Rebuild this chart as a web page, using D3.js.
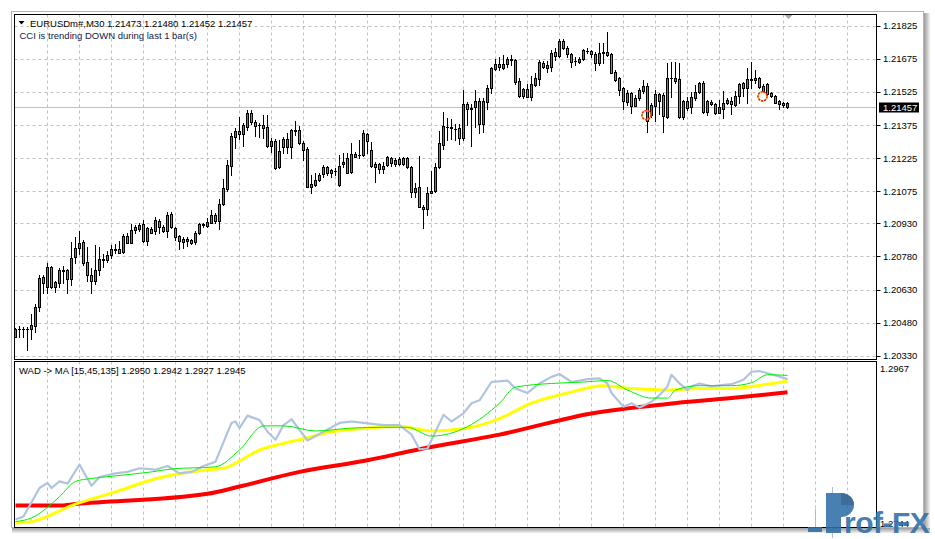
<!DOCTYPE html>
<html><head><meta charset="utf-8">
<script src="https://cdn.jsdelivr.net/npm/d3@7"></script>
<style>
body{margin:0;background:#fff}
svg{display:block}
text{font-family:"Liberation Sans",Arial,sans-serif}
</style>
</head><body>
<svg id="chart" width="935" height="539"></svg>
<script>
// ---------------- data ----------------
const symbolTitle = "EURUSDm#,M30";
const lastBar = [1.21473, 1.21480, 1.21452, 1.21457];
const signalText = "CCI is trending DOWN during last 1 bar(s)";
const priceTicks = [1.21825,1.21675,1.21525,1.21375,1.21225,1.21075,1.20930,1.20780,1.20630,1.20480,1.20330];
const wadTitle = "WAD -> MA [15,45,135]";
const wadLegendValues = [1.2950, 1.2942, 1.2927, 1.2945];
const wadTicks = [1.2967, 1.2744];

const open = [1.20416,1.20449,1.20452,1.20450,1.20452,1.20467,1.20549,1.20685,1.20642,1.20730,
1.20641,1.20660,1.20718,1.20718,1.20676,1.20778,1.20816,1.20845,1.20754,1.20698,
1.20669,1.20718,1.20763,1.20763,1.20785,1.20812,1.20812,1.20801,1.20872,1.20842,
1.20899,1.20904,1.20925,1.20851,1.20902,1.20896,1.20941,1.20911,1.20896,1.20972,
1.20907,1.20873,1.20843,1.20851,1.20854,1.20843,1.20884,1.20925,1.20919,1.20932,
1.20967,1.20941,1.21017,1.21084,1.21190,1.21322,1.21348,1.21333,1.21367,1.21430,
1.21388,1.21375,1.21375,1.21364,1.21281,1.21304,1.21186,1.21310,1.21274,1.21274,
1.21352,1.21352,1.21292,1.21267,1.21095,1.21103,1.21126,1.21153,1.21183,1.21159,
1.21168,1.21103,1.21197,1.21224,1.21163,1.21231,1.21239,1.21239,1.21333,1.21262,
1.21186,1.21198,1.21174,1.21194,1.21224,1.21198,1.21221,1.21197,1.21224,1.21186,
1.21073,1.21093,1.21005,1.20993,1.21068,1.21074,1.21183,1.21284,1.21367,1.21367,
1.21358,1.21360,1.21317,1.21470,1.21450,1.21455,1.21483,1.21382,1.21480,1.21545,
1.21627,1.21651,1.21632,1.21651,1.21672,1.21669,1.21575,1.21508,1.21538,1.21503,
1.21555,1.21582,1.21657,1.21634,1.21639,1.21707,1.21689,1.21754,1.21722,1.21696,
1.21665,1.21661,1.21672,1.21711,1.21711,1.21696,1.21654,1.21700,1.21705,1.21696,
1.21616,1.21586,1.21541,1.21480,1.21521,1.21461,1.21496,1.21529,1.21551,1.21420,
1.21461,1.21485,1.21511,1.21412,1.21589,1.21586,1.21582,1.21410,1.21483,1.21455,
1.21496,1.21526,1.21566,1.21435,1.21470,1.21470,1.21430,1.21446,1.21473,1.21485,
1.21465,1.21506,1.21564,1.21545,1.21582,1.21579,1.21586,1.21551,1.21561,1.21518,
1.21506,1.21485,1.21476,1.21473];
const high = [1.20454,1.20464,1.20461,1.20461,1.20519,1.20564,1.20698,1.20698,1.20748,1.20736,
1.20669,1.20726,1.20736,1.20721,1.20846,1.20866,1.20896,1.20854,1.20821,1.20726,
1.20831,1.20823,1.20790,1.20805,1.20831,1.20836,1.20851,1.20881,1.20884,1.20926,
1.20923,1.20932,1.20944,1.20914,1.20914,1.20957,1.20948,1.20922,1.20982,1.20982,
1.20914,1.20876,1.20866,1.20866,1.20860,1.20895,1.20932,1.20932,1.20952,1.20990,
1.20978,1.21038,1.21129,1.21216,1.21337,1.21360,1.21412,1.21385,1.21443,1.21443,
1.21397,1.21385,1.21420,1.21420,1.21315,1.21310,1.21307,1.21319,1.21340,1.21355,
1.21394,1.21370,1.21304,1.21274,1.21148,1.21156,1.21159,1.21194,1.21189,1.21174,
1.21179,1.21239,1.21247,1.21249,1.21292,1.21254,1.21307,1.21352,1.21340,1.21299,
1.21208,1.21201,1.21208,1.21234,1.21231,1.21224,1.21228,1.21231,1.21231,1.21189,
1.21111,1.21234,1.21012,1.21093,1.21168,1.21204,1.21349,1.21435,1.21405,1.21401,
1.21379,1.21382,1.21536,1.21480,1.21470,1.21536,1.21496,1.21496,1.21556,1.21639,
1.21672,1.21684,1.21692,1.21681,1.21692,1.21672,1.21586,1.21545,1.21561,1.21597,
1.21612,1.21669,1.21666,1.21666,1.21714,1.21722,1.21767,1.21767,1.21733,1.21702,
1.21684,1.21684,1.21718,1.21722,1.21714,1.21707,1.21745,1.21745,1.21795,1.21702,
1.21624,1.21591,1.21548,1.21536,1.21526,1.21511,1.21541,1.21579,1.21564,1.21473,
1.21536,1.21521,1.21518,1.21657,1.21661,1.21659,1.21657,1.21488,1.21503,1.21526,
1.21556,1.21571,1.21574,1.21488,1.21488,1.21476,1.21488,1.21530,1.21496,1.21503,
1.21530,1.21566,1.21571,1.21632,1.21661,1.21624,1.21594,1.21561,1.21566,1.21526,
1.21511,1.21488,1.21480,1.21480];
const low = [1.20416,1.20416,1.20416,1.20356,1.20404,1.20438,1.20534,1.20615,1.20615,1.20635,
1.20620,1.20640,1.20658,1.20615,1.20649,1.20748,1.20790,1.20741,1.20669,1.20612,
1.20655,1.20695,1.20730,1.20756,1.20775,1.20796,1.20796,1.20796,1.20839,1.20839,
1.20884,1.20896,1.20846,1.20831,1.20884,1.20881,1.20884,1.20891,1.20869,1.20907,
1.20854,1.20813,1.20819,1.20827,1.20834,1.20834,1.20881,1.20914,1.20914,1.20930,
1.20932,1.20902,1.21012,1.21077,1.21148,1.21269,1.21310,1.21280,1.21352,1.21379,
1.21325,1.21322,1.21315,1.21274,1.21254,1.21177,1.21179,1.21249,1.21247,1.21224,
1.21329,1.21289,1.21216,1.21093,1.21068,1.21098,1.21121,1.21141,1.21148,1.21138,
1.21148,1.21098,1.21186,1.21156,1.21159,1.21228,1.21224,1.21234,1.21249,1.21186,
1.21118,1.21159,1.21159,1.21189,1.21189,1.21189,1.21192,1.21194,1.21179,1.21047,
1.21050,1.21002,1.20907,1.20967,1.21065,1.21073,1.21179,1.21266,1.21307,1.21310,
1.21307,1.21287,1.21307,1.21375,1.21280,1.21367,1.21337,1.21344,1.21446,1.21521,
1.21624,1.21624,1.21627,1.21636,1.21647,1.21561,1.21503,1.21498,1.21503,1.21488,
1.21551,1.21556,1.21632,1.21616,1.21621,1.21669,1.21681,1.21718,1.21684,1.21639,
1.21647,1.21654,1.21669,1.21702,1.21684,1.21624,1.21647,1.21654,1.21687,1.21609,
1.21575,1.21511,1.21446,1.21465,1.21430,1.21461,1.21488,1.21518,1.21344,1.21412,
1.21394,1.21425,1.21344,1.21405,1.21503,1.21564,1.21405,1.21401,1.21443,1.21430,
1.21488,1.21521,1.21430,1.21420,1.21465,1.21425,1.21428,1.21405,1.21470,1.21425,
1.21461,1.21473,1.21506,1.21476,1.21541,1.21566,1.21545,1.21526,1.21511,1.21503,
1.21473,1.21447,1.21455,1.21452];
const close = [1.20449,1.20452,1.20450,1.20452,1.20469,1.20549,1.20680,1.20660,1.20730,1.20640,
1.20662,1.20718,1.20716,1.20676,1.20771,1.20816,1.20839,1.20748,1.20697,1.20669,
1.20718,1.20766,1.20769,1.20786,1.20812,1.20810,1.20796,1.20872,1.20842,1.20899,
1.20911,1.20922,1.20851,1.20907,1.20887,1.20944,1.20911,1.20896,1.20967,1.20911,
1.20869,1.20848,1.20858,1.20857,1.20839,1.20884,1.20925,1.20923,1.20934,1.20967,
1.20941,1.21017,1.21088,1.21194,1.21325,1.21349,1.21333,1.21375,1.21430,1.21387,
1.21370,1.21374,1.21360,1.21281,1.21304,1.21181,1.21256,1.21274,1.21310,1.21352,
1.21350,1.21292,1.21262,1.21095,1.21108,1.21126,1.21148,1.21183,1.21159,1.21171,
1.21167,1.21189,1.21208,1.21159,1.21243,1.21243,1.21238,1.21337,1.21304,1.21189,
1.21198,1.21174,1.21189,1.21228,1.21201,1.21216,1.21197,1.21224,1.21186,1.21073,
1.21088,1.21005,1.20993,1.21068,1.21077,1.21183,1.21292,1.21370,1.21366,1.21360,
1.21357,1.21317,1.21470,1.21446,1.21448,1.21483,1.21382,1.21483,1.21545,1.21632,
1.21651,1.21636,1.21651,1.21674,1.21671,1.21571,1.21508,1.21538,1.21503,1.21561,
1.21589,1.21661,1.21636,1.21647,1.21702,1.21687,1.21754,1.21722,1.21695,1.21661,
1.21664,1.21674,1.21714,1.21710,1.21695,1.21654,1.21700,1.21705,1.21692,1.21612,
1.21579,1.21533,1.21485,1.21521,1.21461,1.21496,1.21533,1.21551,1.21394,1.21464,
1.21514,1.21515,1.21416,1.21586,1.21588,1.21575,1.21410,1.21483,1.21453,1.21500,
1.21526,1.21564,1.21435,1.21483,1.21480,1.21430,1.21458,1.21476,1.21488,1.21470,
1.21506,1.21561,1.21545,1.21582,1.21581,1.21586,1.21548,1.21530,1.21515,1.21506,
1.21476,1.21470,1.21467,1.21457];

// CCI signal markers (bar index, price)
const signalBars = [158, 187];
const signalPrices = [1.21420, 1.21505];

// Indicator window: WAD and its moving averages (sampled at bar indices)
const wadBars = [0,2,6,8,9,11,13,16,19,21,25,28,31,35,38,41,44,47,50,54,55,56,58,61,63,65,67,69,73,77,81,84,87,92,96,99,101,103,107,109,112,114,116,119,123,125,128,131,134,136,139,143,146,148,149,152,154,156,159,161,163,164,166,168,169,171,174,177,179,182,184,186,188,190,193];
const wadValues = [1.2753,1.2757,1.2796,1.2803,1.2796,1.2805,1.2802,1.2828,1.2799,1.2811,1.2816,1.2818,1.2823,1.2821,1.2826,1.2816,1.2818,1.2826,1.2832,1.2885,1.2887,1.2878,1.2895,1.2889,1.2873,1.2862,1.2882,1.2890,1.2861,1.2873,1.2885,1.2887,1.2885,1.2882,1.2882,1.2869,1.2849,1.2850,1.2896,1.2887,1.2898,1.2912,1.2916,1.2941,1.2943,1.2932,1.2926,1.2939,1.2948,1.2952,1.2941,1.2945,1.2946,1.2939,1.2926,1.2907,1.2912,1.2906,1.2914,1.2923,1.2935,1.2951,1.2939,1.2930,1.2935,1.2939,1.2935,1.2937,1.2938,1.2944,1.2955,1.2956,1.2953,1.2950,1.2945];
const ma15Bars = [0,4,11,15,19,24,34,39,50,56,62,67,75,84,92,98,104,113,121,125,134,142,148,153,159,163,165,171,179,184,188,193];
const ma15Values = [1.2750,1.2755,1.2784,1.2805,1.2809,1.2812,1.2818,1.2822,1.2825,1.2848,1.2881,1.2881,1.2874,1.2878,1.2879,1.2879,1.2867,1.2880,1.2912,1.2934,1.2939,1.2941,1.2943,1.2930,1.2919,1.2919,1.2930,1.2936,1.2936,1.2940,1.2951,1.2950];
const ma45Bars = [0,4,15,24,36,48,52,61,71,79,88,96,104,113,121,129,138,147,154,163,171,179,188,193];
const ma45Values = [1.2748,1.2750,1.2774,1.2789,1.2810,1.2821,1.2823,1.2848,1.2862,1.2873,1.2878,1.2880,1.2874,1.2878,1.2891,1.2912,1.2926,1.2936,1.2932,1.2930,1.2932,1.2932,1.2938,1.2942];
const ma135Bars = [0,11,15,48,56,71,88,101,121,144,163,179,193];
const ma135Values = [1.2772,1.2772,1.2774,1.2788,1.2798,1.2818,1.2834,1.2849,1.2869,1.2898,1.2911,1.2919,1.2927];

// ---------------- drawing ----------------
const svg = d3.select("#chart");
const L = 14.5, R = 876.5, T1 = 14.5, B1 = 359.5, T2 = 361.5, B2 = 527.5;
const FONT = 9.5;

const x = d3.scaleLinear().domain([0, open.length - 1]).range([15.5, 15.5 + 4 * (open.length - 1)]);
const y = d3.scaleLinear().domain([1.20313, 1.21878]).range([359.5, 14]);
const yW = d3.scaleLinear().domain([wadTicks[1], wadTicks[0]]).range([526, 363]);

// window frame + shadow
const defs = svg.append("defs");
const gr = defs.append("linearGradient").attr("id","shR").attr("x1",0).attr("x2",1).attr("y1",0).attr("y2",0);
gr.append("stop").attr("offset","0").attr("stop-color","#9c9c9c");
gr.append("stop").attr("offset","1").attr("stop-color","#f2f2f2");
const gb = defs.append("linearGradient").attr("id","shB").attr("x1",0).attr("x2",0).attr("y1",0).attr("y2",1);
gb.append("stop").attr("offset","0").attr("stop-color","#9c9c9c");
gb.append("stop").attr("offset","1").attr("stop-color","#f2f2f2");
defs.append("clipPath").attr("id","clipW").append("rect").attr("x",L).attr("y",T2).attr("width",R-L).attr("height",B2-T2);
defs.append("clipPath").attr("id","clipM").append("rect").attr("x",L).attr("y",T1).attr("width",R-L).attr("height",B1-T1);

svg.append("rect").attr("x",924).attr("y",13).attr("width",6).attr("height",519).attr("fill","url(#shR)");
svg.append("rect").attr("x",12).attr("y",528).attr("width",918).attr("height",5).attr("fill","url(#shB)");
svg.append("rect").attr("x",11.5).attr("y",11.5).attr("width",912).attr("height",516)
  .attr("fill","#fff").attr("stroke","#b4b4b4");

// grids
const gridColor = "#c0c0c0";
const vBars = d3.range(8, 216, 8).filter(b => x(b) < R - 2);
svg.append("g").selectAll("line").data(vBars).join("line")
  .attr("x1", b => x(b)).attr("x2", b => x(b)).attr("y1", T1).attr("y2", B1)
  .attr("stroke", gridColor).attr("stroke-dasharray","3,3");
svg.append("g").selectAll("line").data(vBars).join("line")
  .attr("x1", b => x(b)).attr("x2", b => x(b)).attr("y1", T2).attr("y2", B2)
  .attr("stroke", gridColor).attr("stroke-dasharray","3,3");
svg.append("g").selectAll("line").data(priceTicks).join("line")
  .attr("x1", L).attr("x2", R)
  .attr("y1", t => Math.round(y(t)) + 0.5).attr("y2", t => Math.round(y(t)) + 0.5)
  .attr("stroke", gridColor).attr("stroke-dasharray","3,3");

// last price line
const lastY = Math.round(y(close[close.length-1])) + 0.5;
svg.append("line").attr("x1",L).attr("x2",R).attr("y1",lastY).attr("y2",lastY).attr("stroke","#c0c0c0");

// candles
const bull = "#2a9a86", bear = "#e2605a";
const gC = svg.append("g").attr("clip-path","url(#clipM)").attr("shape-rendering","crispEdges");
open.forEach((o, i) => {
  const c = close[i], cx = x(i);
  const yh = Math.round(y(high[i])), yl = Math.round(y(low[i]));
  gC.append("rect").attr("x", cx - 0.5).attr("y", yh).attr("width", 1).attr("height", Math.max(1, yl - yh + 1)).attr("fill","#000");
  const top = Math.round(y(Math.max(o, c))), bot = Math.round(y(Math.min(o, c)));
  if (bot - top < 1) {
    gC.append("rect").attr("x", cx - 1.5).attr("y", top).attr("width", 3).attr("height", 1).attr("fill","#000");
  } else {
    gC.append("rect").attr("x", cx - 1).attr("y", top + 0.5).attr("width", 2).attr("height", bot - top)
      .attr("fill", c >= o ? bull : bear).attr("stroke","#000").attr("stroke-width",1);
  }
});

// CCI signal markers
const gS = svg.append("g");
signalBars.forEach((b, k) => {
  const cx = x(b) - 1, cy = y(signalPrices[k]);
  gS.append("circle").attr("cx",cx).attr("cy",cy).attr("r",4.3).attr("fill","none").attr("stroke","#ffd84a").attr("stroke-width",1.2);
  gS.append("circle").attr("cx",cx).attr("cy",cy).attr("r",4.6).attr("fill","none").attr("stroke","#ff1a00").attr("stroke-width",1.5).attr("stroke-dasharray","2.2,1");
});

// indicator lines
const gW = svg.append("g").attr("clip-path","url(#clipW)");
function series(bars, vals){ return bars.map((b,i)=>[b, vals[i]]); }
const lineM = d3.line().x(d => x(d[0])).y(d => yW(d[1])).curve(d3.curveMonotoneX);
const lineL = d3.line().x(d => x(d[0])).y(d => yW(d[1]));
gW.append("path").attr("d", lineM(series(ma135Bars, ma135Values))).attr("fill","none").attr("stroke","#ff0000").attr("stroke-width",4);
gW.append("path").attr("d", lineM(series(ma45Bars, ma45Values))).attr("fill","none").attr("stroke","#ffff00").attr("stroke-width",3);
gW.append("path").attr("d", lineL(series(wadBars, wadValues))).attr("fill","none").attr("stroke","#b0c4de").attr("stroke-width",2.2).attr("stroke-linejoin","round");
gW.append("path").attr("d", lineM(series(ma15Bars, ma15Values))).attr("fill","none").attr("stroke","#00ee00").attr("stroke-width",1);

// frames
svg.append("rect").attr("x",L).attr("y",T1).attr("width",R-L).attr("height",B1-T1).attr("fill","none").attr("stroke","#000");
svg.append("rect").attr("x",L).attr("y",T2).attr("width",R-L).attr("height",B2-T2).attr("fill","none").attr("stroke","#000");

// price axis
svg.append("g").selectAll("line").data(priceTicks).join("line")
  .attr("x1", R).attr("x2", R + 4)
  .attr("y1", t => Math.round(y(t)) + 0.5).attr("y2", t => Math.round(y(t)) + 0.5).attr("stroke","#000");
svg.append("g").selectAll("text").data(priceTicks).join("text")
  .attr("x", 883).attr("y", t => y(t) + 3.5).attr("font-size", FONT).attr("fill","#000")
  .text(t => t.toFixed(5));

// current price box
svg.append("rect").attr("x",879).attr("y",lastY - 5).attr("width",40).attr("height",10).attr("fill","#000");
svg.append("text").attr("x",883).attr("y",lastY + 3.5).attr("font-size",FONT).attr("fill","#fff").text(close[close.length-1].toFixed(5));

// indicator axis labels
svg.append("text").attr("x",880).attr("y",372).attr("font-size",FONT).text(wadTicks[0].toFixed(4));
svg.append("text").attr("x",880).attr("y",527).attr("font-size",FONT).text(wadTicks[1].toFixed(4));

// chart shift marker
svg.append("path").attr("d","M784.5,15 L792.5,15 L788.5,19 Z").attr("fill","#a8a8a8");

// header texts
svg.append("path").attr("d","M18.5,21 L24.5,21 L21.5,24.5 Z").attr("fill","#000");
svg.append("text").attr("x",30).attr("y",26.5).attr("font-size",FONT)
  .text(symbolTitle + "  " + lastBar.map(v => v.toFixed(5)).join(" "));
svg.append("text").attr("x",19.5).attr("y",38.5).attr("font-size",FONT).attr("fill","#10204a").text(signalText);
svg.append("text").attr("x",19).attr("y",374).attr("font-size",FONT)
  .text(wadTitle + " " + wadLegendValues.map(v => v.toFixed(4)).join(" "));

// watermark logo
const lg = svg.append("g").attr("opacity",0.88);
const blue = "#2f6fa8";
lg.append("line").attr("x1",832.5).attr("x2",832.5).attr("y1",487).attr("y2",538).attr("stroke","#9fbad3");
lg.append("line").attr("x1",815.5).attr("x2",815.5).attr("y1",509).attr("y2",532).attr("stroke","#9fbad3");
lg.append("rect").attr("x",808).attr("y",527).attr("width",14).attr("height",5).attr("fill",blue);
lg.append("rect").attr("x",826).attr("y",493).attr("width",15).attr("height",40).attr("fill",blue);
lg.append("path").attr("d","M841,493 A13,12 0 0 1 841,517 Z").attr("fill",blue);
lg.append("path").attr("d","M841,493 A13,12 0 0 1 854,505 L841,505 Z").attr("fill","#255a8a");
lg.append("text").attr("x",844).attr("y",533).attr("font-size",30).attr("font-weight","bold")
  .attr("fill",blue).attr("letter-spacing","-0.5").text("rof-FX");
</script>
</body></html>
